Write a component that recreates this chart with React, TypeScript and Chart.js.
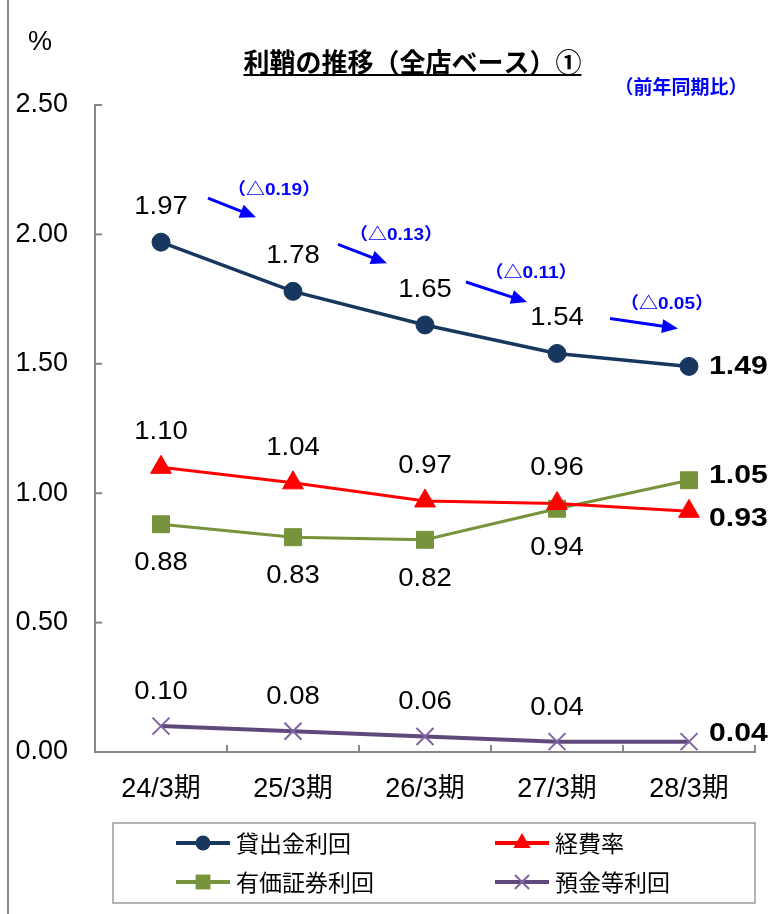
import React, { useEffect, useRef } from 'react';
import { Chart, registerables } from 'chart.js';

Chart.register(...registerables);

// ---------- data ----------
const categories = ['24/3期', '25/3期', '26/3期', '27/3期', '28/3期'];
const loanYield = [1.97, 1.78, 1.65, 1.54, 1.49];
const expenseRatio = [1.1, 1.04, 0.97, 0.96, 0.93];
const securitiesYield = [0.88, 0.83, 0.82, 0.94, 1.05];
const depositCost = [0.1, 0.08, 0.06, 0.04, 0.04];
const seriesNames = ['貸出金利回', '経費率', '有価証券利回', '預金等利回'];
const yoyChanges = ['（△0.19）', '（△0.13）', '（△0.11）', '（△0.05）'];
const yTicks = [0, 0.5, 1, 1.5, 2, 2.5];
const titleText = '利鞘の推移（全店ベース）①';
const unitText = '%';
const yoyNote = '（前年同期比）';

const seriesValues = [loanYield, expenseRatio, securitiesYield, depositCost];

// ---------- styles ----------
const NUM_FONT = "'Liberation Sans', Arial, 'Noto Sans CJK JP', sans-serif";
const JP_FONT = "'Noto Sans CJK JP', 'Noto Sans CJK SC', sans-serif";
const AXIS_COLOR = '#868686';
const BLUE = '#0000FF';

const seriesStyles = [
  { line: '#17375E', marker: '#17375E', style: 'circle', radius: 9, width: 3.5, legendR: 7.5 },
  { line: '#FF0000', marker: '#FF0000', style: 'triangle', radius: 12, width: 3, legendR: 10 },
  { line: '#77933C', marker: '#77933C', style: 'rect', radius: 12, width: 3, legendR: 10.5 },
  { line: '#5F497A', marker: '#8064A2', style: 'crossRot', radius: 12, width: 4, legendR: 10 },
];

// label placement per series: offset above/below the point, and offset of the bold last label
const labelPlacement = [
  { dy: -35, lastDy: 0 },
  { dy: -35, lastDy: 8 },
  { dy: 39, lastDy: -4 },
  { dy: -34, lastDy: -8 },
];

// arrow geometry relative to each loan-yield point
const arrowGeom = [
  { x0: 47, y0: -44, x1: 95, y1: -25, lx: 113, ly: -52 },
  { x0: 45, y0: -47, x1: 94, y1: -28, lx: 103, ly: -56 },
  { x0: 41, y0: -43, x1: 102, y1: -23, lx: 106, ly: -52 },
  { x0: 53, y0: -35, x1: 121, y1: -25, lx: 110, ly: -49 },
];

function drawText(
  ctx: CanvasRenderingContext2D,
  s: string,
  x: number,
  y: number,
  font: string,
  color: string,
  align: CanvasTextAlign,
  sx = 1
) {
  ctx.save();
  ctx.font = font;
  ctx.fillStyle = color;
  ctx.textAlign = align;
  ctx.textBaseline = 'middle';
  ctx.translate(x, y);
  ctx.scale(sx, 1);
  ctx.fillText(s, 0, 0);
  ctx.restore();
}

function drawMarker(ctx: CanvasRenderingContext2D, style: string, x: number, y: number, r: number, color: string) {
  ctx.save();
  ctx.fillStyle = color;
  ctx.strokeStyle = color;
  ctx.beginPath();
  if (style === 'circle') {
    ctx.arc(x, y, r, 0, Math.PI * 2);
    ctx.fill();
  } else if (style === 'triangle') {
    ctx.moveTo(x, y - r);
    ctx.lineTo(x + r * 0.866, y + r / 2);
    ctx.lineTo(x - r * 0.866, y + r / 2);
    ctx.closePath();
    ctx.fill();
  } else if (style === 'rect') {
    const s = r * Math.SQRT1_2;
    ctx.fillRect(x - s, y - s, 2 * s, 2 * s);
  } else {
    const s = r * Math.SQRT1_2;
    ctx.lineWidth = 2;
    ctx.moveTo(x - s, y - s);
    ctx.lineTo(x + s, y + s);
    ctx.moveTo(x + s, y - s);
    ctx.lineTo(x - s, y + s);
    ctx.stroke();
  }
  ctx.restore();
}

function drawArrow(ctx: CanvasRenderingContext2D, x0: number, y0: number, x1: number, y1: number) {
  const ang = Math.atan2(y1 - y0, x1 - x0);
  const hl = 16;
  const hw = 7;
  const bx = x1 - hl * Math.cos(ang);
  const by = y1 - hl * Math.sin(ang);
  ctx.save();
  ctx.strokeStyle = BLUE;
  ctx.fillStyle = BLUE;
  ctx.lineWidth = 3;
  ctx.beginPath();
  ctx.moveTo(x0, y0);
  ctx.lineTo(bx + Math.cos(ang), by + Math.sin(ang));
  ctx.stroke();
  ctx.beginPath();
  ctx.moveTo(x1, y1);
  ctx.lineTo(bx + hw * Math.sin(ang), by - hw * Math.cos(ang));
  ctx.lineTo(bx - hw * Math.sin(ang), by + hw * Math.cos(ang));
  ctx.closePath();
  ctx.fill();
  ctx.restore();
}

const decorPlugin = {
  id: 'decor',
  afterDraw(chart: any) {
    const { ctx, chartArea, scales } = chart;
    const xs = scales.x;
    const ys = scales.y;
    ctx.save();

    // left page rule
    ctx.strokeStyle = '#8a8a8a';
    ctx.lineWidth = 2;
    ctx.beginPath();
    ctx.moveTo(8, 0);
    ctx.lineTo(8, chart.height);
    ctx.stroke();

    // inside tick marks
    ctx.strokeStyle = AXIS_COLOR;
    ctx.lineWidth = 2;
    ys.ticks.forEach((t: any) => {
      const py = ys.getPixelForValue(t.value);
      ctx.beginPath();
      ctx.moveTo(chartArea.left, py);
      ctx.lineTo(chartArea.left + 7, py);
      ctx.stroke();
    });
    const step = xs.getPixelForValue(1) - xs.getPixelForValue(0);
    for (let i = 0; i <= categories.length; i++) {
      const px = xs.getPixelForValue(0) - step / 2 + i * step;
      ctx.beginPath();
      ctx.moveTo(px, chartArea.bottom);
      ctx.lineTo(px, chartArea.bottom - 7);
      ctx.stroke();
    }
    ctx.restore();

    // title
    ctx.save();
    ctx.font = `bold 26px ${JP_FONT}`;
    const tw = ctx.measureText(titleText).width;
    ctx.restore();
    const tcx = 412.5;
    drawText(ctx, titleText, tcx, 62, `bold 26px ${JP_FONT}`, '#000', 'center');
    ctx.save();
    ctx.strokeStyle = '#000';
    ctx.lineWidth = 2;
    ctx.beginPath();
    ctx.moveTo(tcx - tw / 2, 75);
    ctx.lineTo(tcx + tw / 2, 75);
    ctx.stroke();
    ctx.restore();

    drawText(ctx, unitText, 28, 43, `27px ${NUM_FONT}`, '#000', 'left');
    drawText(ctx, yoyNote, 681, 87, `bold 19px ${JP_FONT}`, BLUE, 'center');

    // data labels
    chart.data.datasets.forEach((ds: any, di: number) => {
      const meta = chart.getDatasetMeta(di);
      const pl = labelPlacement[di];
      meta.data.forEach((pt: any, i: number) => {
        const v = (ds.data[i] as number).toFixed(2);
        if (i === meta.data.length - 1) {
          drawText(ctx, v, pt.x + 20, pt.y + pl.lastDy, `bold 26px ${NUM_FONT}`, '#000', 'left', 1.16);
        } else {
          drawText(ctx, v, pt.x, pt.y + pl.dy, `25px ${NUM_FONT}`, '#000', 'center', 1.1);
        }
      });
    });

    // year-on-year arrows
    const loanMeta = chart.getDatasetMeta(0);
    yoyChanges.forEach((lab, i) => {
      const p = loanMeta.data[i];
      const g = arrowGeom[i];
      drawArrow(ctx, p.x + g.x0, p.y + g.y0, p.x + g.x1, p.y + g.y1);
      drawText(ctx, lab, p.x + g.lx, p.y + g.ly, `bold 17px ${NUM_FONT}`, BLUE, 'center', 1.12);
    });

    // legend
    ctx.save();
    ctx.strokeStyle = '#9a9a9a';
    ctx.lineWidth = 1.5;
    ctx.strokeRect(113, 823, 642, 80);
    ctx.restore();
    const cols = [176, 495];
    const rows = [843, 882];
    seriesNames.forEach((name, i) => {
      const cx = cols[i % 2];
      const cy = rows[Math.floor(i / 2)];
      const st = seriesStyles[i];
      ctx.save();
      ctx.strokeStyle = st.line;
      ctx.lineWidth = 4;
      ctx.beginPath();
      ctx.moveTo(cx, cy);
      ctx.lineTo(cx + 54, cy);
      ctx.stroke();
      ctx.restore();
      drawMarker(ctx, st.style, cx + 27, cy, st.legendR, st.marker);
      drawText(ctx, name, cx + 60, cy, `23px ${JP_FONT}`, '#000', 'left');
    });
  },
};

export default function App() {
  const ref = useRef<HTMLCanvasElement>(null);
  useEffect(() => {
    const canvas = ref.current!;
    const chart = new Chart(canvas, {
      type: 'line',
      data: {
        labels: categories,
        datasets: seriesValues.map((vals, i) => ({
          label: seriesNames[i],
          data: vals,
          borderColor: seriesStyles[i].line,
          backgroundColor: seriesStyles[i].marker,
          borderWidth: seriesStyles[i].width,
          pointStyle: seriesStyles[i].style as any,
          pointRadius: seriesStyles[i].radius,
          pointBackgroundColor: seriesStyles[i].marker,
          pointBorderColor: seriesStyles[i].marker,
          pointBorderWidth: i === 3 ? 2 : 1,
          tension: 0,
          fill: false,
          clip: false as any,
        })),
      },
      options: {
        responsive: false,
        animation: false,
        devicePixelRatio: 1,
        events: [],
        layout: { padding: { left: 10, right: 27, top: 105, bottom: 0 } },
        plugins: {
          legend: { display: false },
          tooltip: { enabled: false },
          title: { display: false },
        },
        scales: {
          x: {
            type: 'category',
            offset: true,
            grid: { display: false, drawTicks: false },
            border: { display: true, color: AXIS_COLOR, width: 2 },
            ticks: {
              color: '#000',
              font: { family: NUM_FONT, size: 27 },
              padding: 21,
              maxRotation: 0,
              autoSkip: false,
            },
            afterFit: (s: any) => {
              s.height = 162;
            },
          },
          y: {
            type: 'linear',
            min: 0,
            max: 2.5,
            grid: { display: false, drawTicks: false },
            border: { display: true, color: AXIS_COLOR, width: 2 },
            ticks: {
              color: '#000',
              font: { family: NUM_FONT, size: 27 },
              padding: 27,
              callback: (v: any) => Number(v).toFixed(2),
            },
            afterBuildTicks: (s: any) => {
              s.ticks = yTicks.map((v) => ({ value: v }));
            },
            afterFit: (s: any) => {
              s.width = 85;
            },
          },
        },
      } as any,
      plugins: [decorPlugin],
    });
    return () => chart.destroy();
  }, []);

  return (
    <div style={{ position: 'fixed', left: 0, top: 0, width: 782, height: 914, background: '#fff' }}>
      <canvas ref={ref} width={782} height={914} style={{ display: 'block', width: 782, height: 914 }} />
    </div>
  );
}
